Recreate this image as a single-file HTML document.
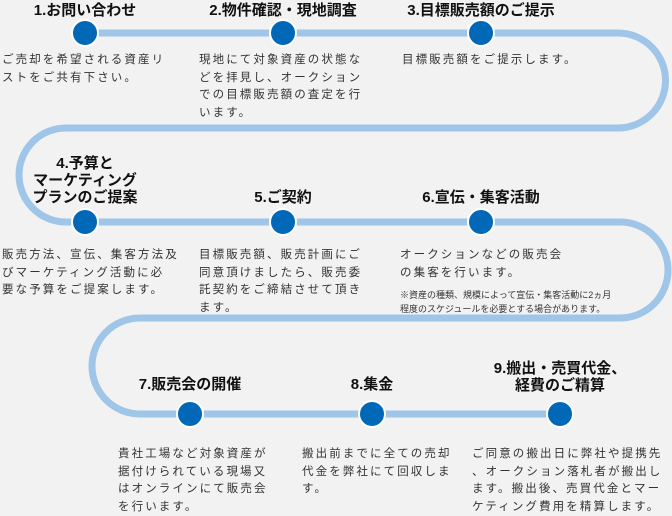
<!DOCTYPE html>
<html><head><meta charset="utf-8"><style>
body{margin:0;width:672px;height:514px;background:#f2f2f2;position:relative;overflow:hidden;font-family:"Liberation Sans","Noto Sans CJK JP",sans-serif;color:#222}
svg{position:absolute;left:0;top:0}
.t{position:absolute;font-weight:bold;font-size:15px;line-height:17px;text-align:center;color:#111;white-space:nowrap}
.b{position:absolute;font-size:11.5px;line-height:17.5px;letter-spacing:2.1px;color:#333;white-space:nowrap}
.n{position:absolute;font-size:9px;line-height:14px;color:#333;white-space:nowrap}
</style></head><body>
<svg width="672" height="514">
<path d="M85 33 H618 A47.5 47.5 0 0 1 618 128 H66 A47 47 0 0 0 66 222 H620 A48 48 0 0 1 620 318 H140 A48 48 0 0 0 140 414 H560" fill="none" stroke="#9fc5e8" stroke-width="7"/>
<g fill="#0068b7" stroke="#fff" stroke-width="2">
<circle cx="85" cy="33" r="13"/><circle cx="283" cy="33" r="13"/><circle cx="481" cy="33" r="13"/>
<circle cx="85" cy="222" r="13"/><circle cx="283" cy="222" r="13"/><circle cx="481" cy="222" r="13"/>
<circle cx="190" cy="414" r="13"/><circle cx="372" cy="414" r="13"/><circle cx="560" cy="414" r="13"/>
</g></svg>
<div class="t" style="left:20px;width:130px;top:2px">1.お問い合わせ</div>
<div class="t" style="left:190px;width:186px;top:2px">2.物件確認・現地調査</div>
<div class="t" style="left:385px;width:192px;top:2px">3.目標販売額のご提示</div>
<div class="b" style="left:2px;top:52px">ご売却を希望される資産リ<br>ストをご共有下さい。</div>
<div class="b" style="left:199px;top:52px">現地にて対象資産の状態な<br>どを拝見し、オークション<br>での目標販売額の査定を行<br>います。</div>
<div class="b" style="left:402px;top:52px">目標販売額をご提示します。</div>
<div class="t" style="left:10px;width:150px;top:155px">4.予算と<br>マーケティング<br>プランのご提案</div>
<div class="t" style="left:233px;width:100px;top:189px">5.ご契約</div>
<div class="t" style="left:406px;width:150px;top:189px">6.宣伝・集客活動</div>
<div class="b" style="left:2px;top:247px">販売方法、宣伝、集客方法及<br>びマーケティング活動に必<br>要な予算をご提案します。</div>
<div class="b" style="left:199px;top:247px">目標販売額、販売計画にご<br>同意頂けましたら、販売委<br>託契約をご締結させて頂き<br>ます。</div>
<div class="b" style="left:400px;top:247px">オークションなどの販売会<br>の集客を行います。</div>
<div class="n" style="left:400px;top:288px">※資産の種類、規模によって宣伝・集客活動に2ヵ月<br>程度のスケジュールを必要とする場合があります。</div>
<div class="t" style="left:115px;width:150px;top:376px">7.販売会の開催</div>
<div class="t" style="left:322px;width:100px;top:376px">8.集金</div>
<div class="t" style="left:465px;width:190px;top:360px">9.搬出・売買代金、<br>経費のご精算</div>
<div class="b" style="left:118px;top:446px">貴社工場など対象資産が<br>据付けられている現場又<br>はオンラインにて販売会<br>を行います。</div>
<div class="b" style="left:302px;top:446px">搬出前までに全ての売却<br>代金を弊社にて回収しま<br>す。</div>
<div class="b" style="left:472px;top:446px">ご同意の搬出日に弊社や提携先<br>、オークション落札者が搬出し<br>ます。搬出後、売買代金とマー<br>ケティング費用を精算します。</div>
</body></html>
